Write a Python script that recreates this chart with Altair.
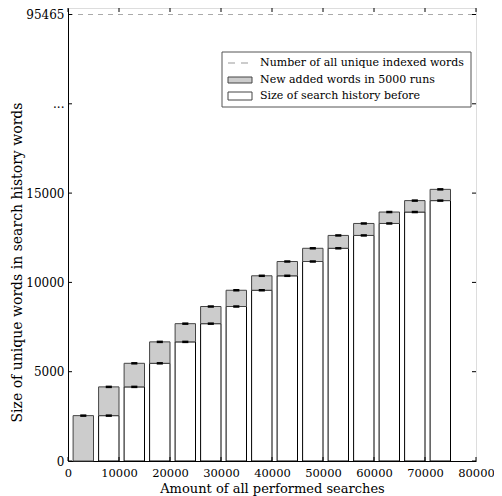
import altair as alt
import pandas as pd

# ---- data ----
BAR_CENTERS = [3000, 8000, 13000, 18000, 23000, 28000, 33000, 38000,
               43000, 48000, 53000, 58000, 63000, 68000, 73000]
SIZE_BEFORE = [0, 2540, 4150, 5470, 6670, 7690, 8650, 9560,
               10370, 11170, 11910, 12630, 13300, 13940, 14580]
SIZE_AFTER = [2540, 4150, 5470, 6670, 7690, 8650, 9560, 10370,
              11170, 11910, 12630, 13300, 13940, 14580, 15210]
X_TICKS = [0, 10000, 20000, 30000, 40000, 50000, 60000, 70000, 80000]
Y_TICKS = [0, 5000, 10000, 15000, 20000, 25000]
INDEXED_WORDS = 95465          # shown at the broken-axis position 25000
INDEXED_POS = [25000]
LEGEND_LABELS = ["Number of all unique indexed words",
                 "New added words in 5000 runs",
                 "Size of search history before"]

W, H = 408, 453
FONT = "DejaVu Serif"

xs = alt.Scale(domain=[0, 80000], nice=False, zero=False)
ys = alt.Scale(domain=[0, 25364], nice=False, zero=False)

x_axis = alt.Axis(values=X_TICKS, ticks=False, grid=False, format="d",
                  labelOverlap=False, labelFlush=False,
                  labelFont=FONT, labelFontSize=11.5, labelColor="black",
                  labelPadding=6, domainColor="black",
                  title="Amount of all performed searches",
                  titleFont=FONT, titleFontSize=13, titleFontWeight="normal",
                  titleColor="black", titlePadding=4)
y_axis = alt.Axis(values=Y_TICKS, ticks=False, grid=False, format="d",
                  labelOverlap=False, labelFlush=False,
                  labelFont=FONT, labelFontSize=12, labelColor="black",
                  labelPadding=4, domainColor="black",
                  labelExpr=f"datum.value == 25000 ? '{INDEXED_WORDS}' : datum.value == 20000 ? '...' : datum.label",
                  title="Size of unique words in search history   words",
                  titleFont=FONT, titleFontSize=14, titleFontWeight="normal",
                  titleColor="black", titleY=254, titleX=-44)

df = pd.DataFrame({"center": BAR_CENTERS, "before": SIZE_BEFORE, "after": SIZE_AFTER})
base = alt.Chart(df).transform_calculate(
    x0="datum.center - 2000", x1="datum.center + 2000",
    e0="datum.center - 600", e1="datum.center + 600", zero="0")

white = base.mark_rect(fill="white", stroke="black", strokeWidth=1).encode(
    x=alt.X("x0:Q", scale=xs, axis=x_axis), x2="x1:Q",
    y=alt.Y("zero:Q", scale=ys, axis=y_axis), y2="before:Q")
gray = base.mark_rect(fill="#cccccc", stroke="#444444", strokeWidth=1).encode(
    x=alt.X("x0:Q", scale=xs, axis=x_axis), x2="x1:Q",
    y=alt.Y("before:Q", scale=ys, axis=y_axis), y2="after:Q")
err_top = base.mark_rule(color="black", strokeWidth=2.5).encode(
    x=alt.X("e0:Q", scale=xs, axis=x_axis), x2="e1:Q",
    y=alt.Y("after:Q", scale=ys, axis=y_axis))
err_bot = base.transform_filter("datum.before > 0").mark_rule(color="black", strokeWidth=2.5).encode(
    x=alt.X("e0:Q", scale=xs, axis=x_axis), x2="e1:Q",
    y=alt.Y("before:Q", scale=ys, axis=y_axis))

dash = alt.Chart(pd.DataFrame({"v": INDEXED_POS})).mark_rule(
    color="#aaaaaa", strokeDash=[5, 5], strokeWidth=1).encode(
    y=alt.Y("v:Q", scale=ys, axis=y_axis), x=alt.value(0), x2=alt.value(W))

ydf = pd.DataFrame({"v": Y_TICKS})
xdf = pd.DataFrame({"v": X_TICKS})
tick_l = alt.Chart(ydf).mark_rule(color="black").encode(
    y=alt.Y("v:Q", scale=ys, axis=y_axis), x=alt.value(0), x2=alt.value(4))
tick_r = alt.Chart(ydf).mark_rule(color="black").encode(
    y=alt.Y("v:Q", scale=ys, axis=y_axis), x=alt.value(W - 4), x2=alt.value(W))
tick_b = alt.Chart(xdf).mark_rule(color="black").encode(
    x=alt.X("v:Q", scale=xs, axis=x_axis), y=alt.value(H - 4), y2=alt.value(H))
tick_t = alt.Chart(xdf).mark_rule(color="black").encode(
    x=alt.X("v:Q", scale=xs, axis=x_axis), y=alt.value(0), y2=alt.value(4))

one = pd.DataFrame({"k": [0]})
leg_box = alt.Chart(one).mark_rect(fill="white", stroke="#555555", strokeWidth=1).encode(
    x=alt.value(154), x2=alt.value(W - 5), y=alt.value(44), y2=alt.value(99))
leg_dash = alt.Chart(one).mark_rule(color="#999999", strokeDash=[7, 6]).encode(
    x=alt.value(160), x2=alt.value(182), y=alt.value(55))
leg_gray = alt.Chart(one).mark_rect(fill="#cccccc", stroke="#444444").encode(
    x=alt.value(160), x2=alt.value(184), y=alt.value(69), y2=alt.value(75))
leg_white = alt.Chart(one).mark_rect(fill="white", stroke="#444444").encode(
    x=alt.value(160), x2=alt.value(184), y=alt.value(84), y2=alt.value(92))
leg_texts = []
for i, lab in enumerate(LEGEND_LABELS):
    leg_texts.append(
        alt.Chart(pd.DataFrame({"label": [lab]})).mark_text(
            font=FONT, fontSize=11, align="left", baseline="middle", color="black").encode(
            text="label:N", x=alt.value(192), y=alt.value([55, 71.5, 88][i])))

chart = alt.layer(white, gray, err_top, err_bot, dash, tick_l, tick_r, tick_b, tick_t,
                  leg_box, leg_dash, leg_gray, leg_white, *leg_texts).properties(
    width=W, height=H,
    autosize=alt.AutoSizeParams(type="none"),
    padding={"left": 60, "top": 0, "right": 18, "bottom": 35},
).configure_view(stroke="#555555", strokeWidth=1).configure(background="white")

chart.save("out.html", embed_options={"renderer": "svg", "actions": False})
